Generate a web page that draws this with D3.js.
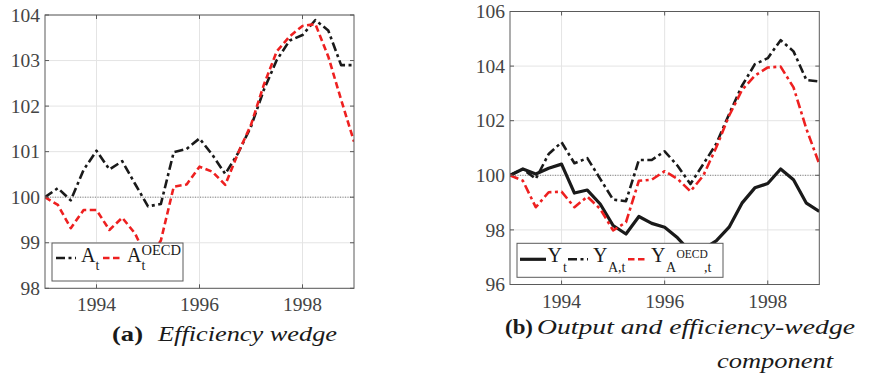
<!DOCTYPE html>
<html><head><meta charset="utf-8">
<script src="https://cdn.jsdelivr.net/npm/d3@7"></script>
<style>body{margin:0;background:#fff} svg{display:block}</style>
</head><body><svg id="c" width="871" height="376"></svg>
<script>
// ---- data ----
const quarters = [1993,1993.25,1993.5,1993.75,1994,1994.25,1994.5,1994.75,1995,1995.25,1995.5,1995.75,
  1996,1996.25,1996.5,1996.75,1997,1997.25,1997.5,1997.75,1998,1998.25,1998.5,1998.75,1999];
const effA      = [100.0,100.2,99.93,100.6,101.02,100.61,100.79,100.29,99.8,99.85,100.99,101.06,101.29,100.93,100.51,100.97,101.55,102.36,103.01,103.44,103.56,103.89,103.66,102.9,102.9];
const effAOECD  = [100.0,99.83,99.32,99.72,99.72,99.28,99.55,99.2,98.6,99.05,100.23,100.28,100.67,100.56,100.27,100.97,101.59,102.47,103.2,103.53,103.76,103.8,103.09,102.14,101.22];
const outY      = [100.0,100.23,100.05,100.26,100.41,99.35,99.46,98.95,98.16,97.85,98.49,98.24,98.1,97.71,97.2,97.3,97.6,98.1,98.98,99.54,99.7,100.23,99.84,98.98,98.68];
const outYA     = [100.0,100.23,99.87,100.78,101.21,100.44,100.63,99.87,99.11,99.05,100.56,100.56,100.88,100.35,99.68,100.41,101.15,102.24,103.28,104.07,104.29,104.95,104.54,103.49,103.44];
const outYAOECD = [100.0,99.8,98.83,99.38,99.4,98.83,99.22,98.77,97.98,98.28,99.8,99.84,100.15,99.87,99.41,99.99,101.02,102.18,103.12,103.65,103.95,103.98,103.22,101.7,100.41];
const xTicks  = [1994,1996,1998];
const yTicksA = [98,99,100,101,102,103,104];
const yTicksB = [96,98,100,102,104,106];

const svg = d3.select('#c');
const RED = '#ee2020', BLK = '#1a1a1a', FRAME = '#5a5a5a';
const dashDot = '9,3.5,3,3.5', dashed = '6.5,3.5';

function panel(id, box, yDomain, yTicks, series) {
  const x = d3.scaleLinear().domain([1993, 1999]).range([box.l, box.r]);
  const y = d3.scaleLinear().domain(yDomain).range([box.b, box.t]);
  const g = svg.append('g');
  g.append('clipPath').attr('id', 'clip' + id).append('rect')
    .attr('x', box.l).attr('y', box.t).attr('width', box.r - box.l).attr('height', box.b - box.t);
  g.selectAll('.gx').data(xTicks).join('line')
    .attr('x1', d => x(d)).attr('x2', d => x(d)).attr('y1', box.t).attr('y2', box.b)
    .attr('stroke', '#e4e4e4').attr('stroke-width', 1);
  g.selectAll('.gy').data(yTicks).join('line')
    .attr('y1', d => y(d)).attr('y2', d => y(d)).attr('x1', box.l).attr('x2', box.r)
    .attr('stroke', '#e4e4e4').attr('stroke-width', 1);
  g.append('line').attr('x1', box.l).attr('x2', box.r).attr('y1', y(100)).attr('y2', y(100))
    .attr('stroke', '#777').attr('stroke-width', 0.9).attr('stroke-dasharray', '1,1.5');
  const line = d3.line().x((d, i) => x(quarters[i])).y(d => y(d));
  const lg = g.append('g').attr('clip-path', `url(#clip${id})`);
  series.forEach(s => {
    lg.append('path').datum(s.values).attr('d', line).attr('fill', 'none')
      .attr('stroke', s.color).attr('stroke-width', s.width)
      .attr('stroke-dasharray', s.dash || null).attr('stroke-linejoin', 'round');
  });
  g.append('rect').attr('x', box.l).attr('y', box.t).attr('width', box.r - box.l).attr('height', box.b - box.t)
    .attr('fill', 'none').attr('stroke', FRAME).attr('stroke-width', 1);
  const tl = 4;
  xTicks.forEach(v => {
    g.append('line').attr('x1', x(v)).attr('x2', x(v)).attr('y1', box.b).attr('y2', box.b - tl).attr('stroke', FRAME);
    g.append('line').attr('x1', x(v)).attr('x2', x(v)).attr('y1', box.t).attr('y2', box.t + tl).attr('stroke', FRAME);
  });
  yTicks.forEach(v => {
    g.append('line').attr('y1', y(v)).attr('y2', y(v)).attr('x1', box.l).attr('x2', box.l + tl).attr('stroke', FRAME);
    g.append('line').attr('y1', y(v)).attr('y2', y(v)).attr('x1', box.r).attr('x2', box.r - tl).attr('stroke', FRAME);
  });
  g.selectAll('.xl').data(xTicks).join('text')
    .attr('x', d => x(d)).attr('y', box.b + 23).attr('text-anchor', 'middle')
    .attr('font-family', "'Liberation Serif', serif").attr('font-size', 19.5).attr('fill', '#444').text(d => d);
  g.selectAll('.yl').data(yTicks).join('text')
    .attr('x', box.l - 5).attr('y', d => y(d)).attr('dy', '0.34em').attr('text-anchor', 'end')
    .attr('font-family', "'Liberation Serif', serif").attr('font-size', 19.5).attr('fill', '#444').text(d => d);
  return g;
}

function txt(g, x, y, s, size, opts = {}) {
  const t = g.append('text').attr('x', x).attr('y', y).attr('font-size', size)
    .attr('font-family', opts.family || "'Liberation Serif', serif").attr('fill', opts.fill || '#1a1a1a').text(s);
  if (opts.weight) t.attr('font-weight', opts.weight);
  if (opts.style) t.attr('font-style', opts.style);
  if (opts.len) t.attr('textLength', opts.len).attr('lengthAdjust', 'spacingAndGlyphs');
  if (opts.anchor) t.attr('text-anchor', opts.anchor);
  return t;
}

// ---- panel (a) ----
const ga = panel('a', {l: 45, r: 354, t: 15, b: 288.3}, [98, 104], yTicksA, [
  {values: effA, color: BLK, width: 2.6, dash: dashDot},
  {values: effAOECD, color: RED, width: 2.6, dash: dashed}
]);
ga.append('rect').attr('x', 52).attr('y', 243).attr('width', 131).attr('height', 38)
  .attr('fill', '#fff').attr('stroke', FRAME).attr('stroke-width', 1);
ga.append('line').attr('x1', 56).attr('x2', 76).attr('y1', 258).attr('y2', 258)
  .attr('stroke', BLK).attr('stroke-width', 2.6).attr('stroke-dasharray', dashDot);
txt(ga, 81, 262, 'A', 20);
txt(ga, 95.5, 270, 't', 14);
ga.append('line').attr('x1', 103).attr('x2', 122).attr('y1', 258).attr('y2', 258)
  .attr('stroke', RED).attr('stroke-width', 2.6).attr('stroke-dasharray', dashed);
txt(ga, 127, 262, 'A', 20);
txt(ga, 141.5, 255, 'OECD', 14.5);
txt(ga, 141.5, 270, 't', 14);

// ---- panel (b) ----
const gb = panel('b', {l: 510, r: 819.3, t: 11.5, b: 284.5}, [96, 106], yTicksB, [
  {values: outY, color: BLK, width: 3.2, dash: null},
  {values: outYA, color: BLK, width: 2.6, dash: dashDot},
  {values: outYAOECD, color: RED, width: 2.6, dash: dashDot}
]);
gb.append('rect').attr('x', 517).attr('y', 243.3).attr('width', 206).attr('height', 34)
  .attr('fill', '#fff').attr('stroke', FRAME).attr('stroke-width', 1);
gb.append('line').attr('x1', 520).attr('x2', 546).attr('y1', 259.3).attr('y2', 259.3)
  .attr('stroke', BLK).attr('stroke-width', 3.2);
txt(gb, 547.5, 262, 'Y', 20);
txt(gb, 563, 272, 't', 14);
gb.append('line').attr('x1', 568).attr('x2', 588).attr('y1', 259.3).attr('y2', 259.3)
  .attr('stroke', BLK).attr('stroke-width', 2.6).attr('stroke-dasharray', dashDot);
txt(gb, 593, 262, 'Y', 20);
txt(gb, 608, 272, 'A,t', 14);
gb.append('line').attr('x1', 628).attr('x2', 648).attr('y1', 259.3).attr('y2', 259.3)
  .attr('stroke', RED).attr('stroke-width', 2.6).attr('stroke-dasharray', dashed);
txt(gb, 651, 262, 'Y', 20);
txt(gb, 666, 272, 'A', 14);
txt(gb, 676.5, 258, 'OECD', 11.5);
txt(gb, 704, 272, ',t', 14);

// ---- captions ----
const cap = svg.append('g');
txt(cap, 112, 341, '(a)', 21, {weight: 'bold', len: 31});
txt(cap, 158, 341, 'Efficiency wedge', 22, {style: 'italic', len: 179});
txt(cap, 505, 334, '(b)', 21, {weight: 'bold', len: 28});
txt(cap, 537, 334, 'Output and efficiency-wedge', 22, {style: 'italic', len: 318});
txt(cap, 717, 368, 'component', 22, {style: 'italic', len: 116});
</script></body></html>
